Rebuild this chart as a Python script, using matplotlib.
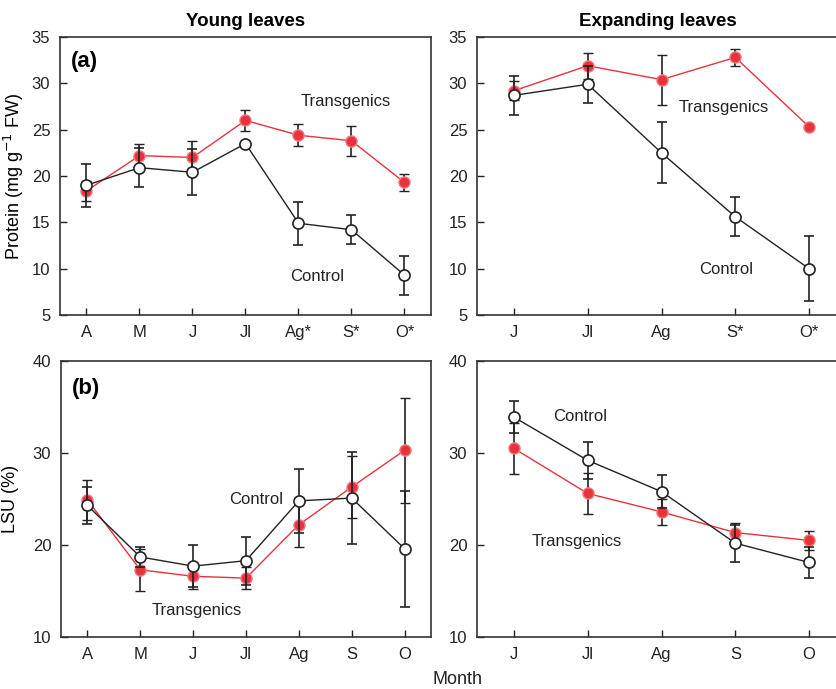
import numpy as np
import matplotlib.pyplot as plt

plt.rcParams['font.family'] = ['Liberation Sans', 'DejaVu Sans']

# --- data ---
months_young = ["A", "M", "J", "Jl", "Ag*", "S*", "O*"]
months_young_b = ["A", "M", "J", "Jl", "Ag", "S", "O"]
months_exp = ["J", "Jl", "Ag", "S*", "O*"]
months_exp_b = ["J", "Jl", "Ag", "S", "O"]

# protein, young leaves
prot_young_tr = [18.4, 22.2, 22.0, 26.0, 24.4, 23.8, 19.3]
prot_young_tr_err = [1.1, 1.3, 1.8, 1.15, 1.2, 1.6, 0.95]
prot_young_ct = [19.0, 20.9, 20.4, 23.5, 14.9, 14.2, 9.3]
prot_young_ct_err = [2.3, 2.1, 2.5, 0.0, 2.3, 1.55, 2.1]

# protein, expanding leaves
prot_exp_tr = [29.2, 31.9, 30.4, 32.8, 25.3]
prot_exp_tr_err = [1.0, 1.4, 2.7, 0.9, 0.0]
prot_exp_ct = [28.7, 29.9, 22.5, 15.6, 10.0]
prot_exp_ct_err = [2.1, 2.0, 3.3, 2.1, 3.5]

# LSU, young leaves
lsu_young_tr = [24.9, 17.3, 16.6, 16.4, 22.2, 26.3, 30.3]
lsu_young_tr_err = [2.2, 2.3, 1.4, 1.2, 2.4, 3.4, 5.7]
lsu_young_ct = [24.3, 18.7, 17.7, 18.3, 24.8, 25.1, 19.6]
lsu_young_ct_err = [2.0, 1.1, 2.3, 2.6, 3.5, 5.0, 6.3]

# LSU, expanding leaves
lsu_exp_tr = [30.5, 25.6, 23.6, 21.35, 20.5]
lsu_exp_tr_err = [2.8, 2.2, 1.4, 1.0, 1.0]
lsu_exp_ct = [33.9, 29.2, 25.8, 20.2, 18.1]
lsu_exp_ct_err = [1.7, 2.0, 1.8, 2.0, 1.7]

RED = "#e8323c"

fig = plt.figure(figsize=(8.37, 6.89), dpi=100)

W, H = 837, 689
def box(l, t, r, b):
    return [l / W, 1 - b / H, (r - l) / W, (b - t) / H]

ax1 = fig.add_axes(box(60, 37, 431, 315))
ax2 = fig.add_axes(box(477, 37, 846, 315))
ax3 = fig.add_axes(box(61, 361, 431, 637))
ax4 = fig.add_axes(box(477, 361, 846, 637))


def draw(ax, labels, tr, tr_err, ct, ct_err):
    x = np.arange(len(labels))
    ax.errorbar(x, tr, yerr=tr_err, color=RED, lw=1.0, ecolor="#222222",
                elinewidth=1.2, capsize=3.5, capthick=1.2, zorder=2,
                marker="o", ms=8, mfc=RED, mec="#f07a80", mew=1.0)
    ax.errorbar(x, ct, yerr=ct_err, color="#222222", lw=1.0, ecolor="#222222",
                elinewidth=1.2, capsize=3.5, capthick=1.2, zorder=3,
                marker="o", ms=8, mfc="white", mec="#222222", mew=1.2)
    ax.set_xticks(x)
    ax.set_xticklabels(labels)
    ax.set_xlim(-0.5, len(labels) - 0.5)
    ax.tick_params(direction="in", length=5, width=1, labelsize=12,
                   colors="#222222", pad=7)
    for s in ax.spines.values():
        s.set_linewidth(1.2)
        s.set_color("#333333")


draw(ax1, months_young, prot_young_tr, prot_young_tr_err, prot_young_ct, prot_young_ct_err)
draw(ax2, months_exp, prot_exp_tr, prot_exp_tr_err, prot_exp_ct, prot_exp_ct_err)
draw(ax3, months_young_b, lsu_young_tr, lsu_young_tr_err, lsu_young_ct, lsu_young_ct_err)
draw(ax4, months_exp_b, lsu_exp_tr, lsu_exp_tr_err, lsu_exp_ct, lsu_exp_ct_err)

for ax in (ax1, ax2):
    ax.set_ylim(5, 35)
    ax.set_yticks(np.arange(5, 36, 5))
for ax in (ax3, ax4):
    ax.set_ylim(10, 40)
    ax.set_yticks([10, 20, 30, 40])

ax1.set_title("Young leaves", fontsize=13.5, fontweight="bold", pad=8)
ax2.set_title("Expanding leaves", fontsize=13.5, fontweight="bold", pad=8,
              x=(658 - 477) / (846 - 477))
ax1.set_ylabel("Protein (mg g$^{-1}$ FW)", fontsize=13, labelpad=4)
ax3.set_ylabel("LSU (%)", fontsize=13, labelpad=10)

ax1.text(0.03, 0.95, "(a)", transform=ax1.transAxes, fontsize=16,
         fontweight="bold", va="top")
ax3.text(0.03, 0.94, "(b)", transform=ax3.transAxes, fontsize=16,
         fontweight="bold", va="top")

kw = dict(fontsize=12, ha="center", va="center", color="#222222")
ax1.text(4.9, 28.0, "Transgenics", **kw)
ax1.text(4.35, 9.2, "Control", **kw)
ax2.text(2.84, 27.4, "Transgenics", **kw)
ax2.text(2.87, 9.9, "Control", **kw)
ax3.text(3.19, 25.0, "Control", **kw)
ax3.text(2.07, 12.85, "Transgenics", **kw)
ax4.text(0.9, 34.0, "Control", **kw)
ax4.text(0.85, 20.4, "Transgenics", **kw)

fig.text(458 / W, 1 - 680 / H, "Month", fontsize=13, ha="center", va="center",
         color="#222222")

fig.savefig("out.png", dpi=100)
